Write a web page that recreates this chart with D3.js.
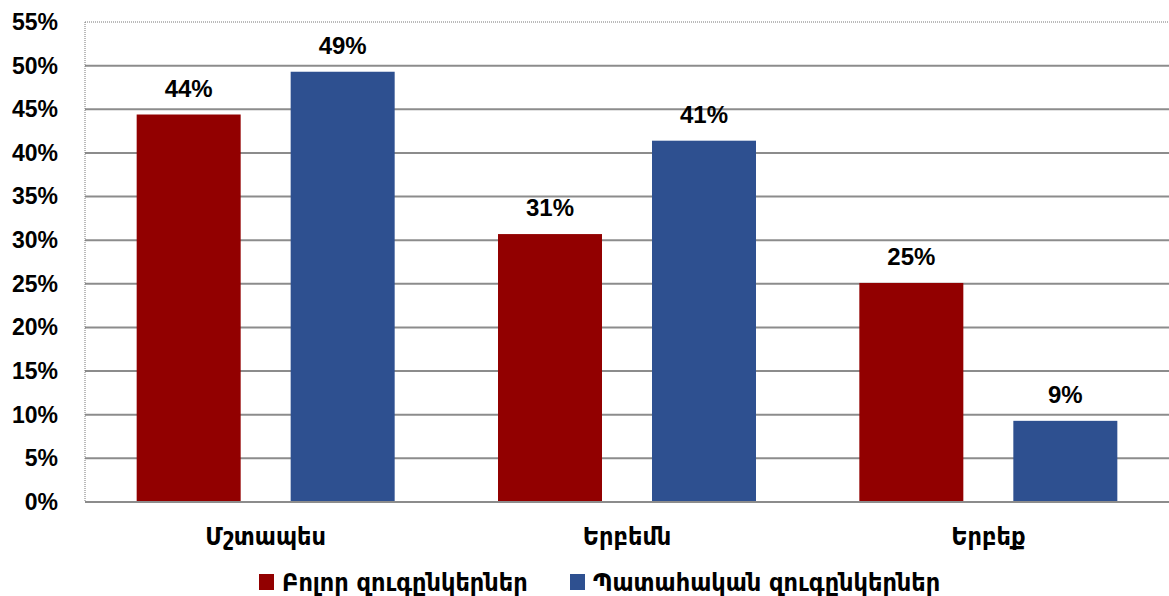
<!DOCTYPE html>
<html>
<head>
<meta charset="utf-8">
<script src="https://cdn.jsdelivr.net/npm/d3@7"></script>
<style>
  body { margin: 0; background: #fff; }
  text { font-family: "Liberation Sans", Arial, sans-serif; font-weight: bold; fill: #000; }
  .arm { font-family: "DejaVu Sans Condensed", "DejaVu Sans", sans-serif; }
</style>
</head>
<body>
<div id="chart"></div>
<script>
const categories = ['Մշտապես', 'Երբեմն', 'Երբեք'];
const seriesNames = ['Բոլոր զուգընկերներ', 'Պատահական զուգընկերներ'];
const allPartners = [44.4, 30.7, 25.1];
const casualPartners = [49.3, 41.4, 9.3];
const valueLabels = [['44%', '31%', '25%'], ['49%', '41%', '9%']];
const yTicks = [0, 5, 10, 15, 20, 25, 30, 35, 40, 45, 50, 55];

const width = 1169;
const height = 596;
const margin = { top: 22, right: 0, bottom: 94, left: 85 };
const colors = ['#920000', '#2E5090'];

const svg = d3.select('#chart')
  .append('svg')
  .attr('width', width)
  .attr('height', height);

const x = d3.scaleBand()
  .domain(categories)
  .range([margin.left, width - margin.right]);

// two bars of 104px with a 50px gap, centred in each category
const groupW = 258;
const x1 = d3.scaleBand()
  .domain([0, 1])
  .range([(x.bandwidth() - groupW) / 2, (x.bandwidth() + groupW) / 2])
  .paddingInner(50 / 154);

const y = d3.scaleLinear()
  .domain([0, 55])
  .range([height - margin.bottom, margin.top]);

// gridlines
svg.append('g')
  .selectAll('line')
  .data(yTicks.slice(1, -1))
  .enter()
  .append('line')
  .attr('x1', margin.left)
  .attr('x2', width - margin.right)
  .attr('y1', d => y(d))
  .attr('y2', d => y(d))
  .attr('stroke', '#8c8c8c')
  .attr('stroke-width', 2);

// plot border (dotted top & left)
svg.append('line')
  .attr('x1', margin.left).attr('x2', width)
  .attr('y1', y(55)).attr('y2', y(55))
  .attr('stroke', '#777').attr('stroke-width', 1).attr('stroke-dasharray', '1,1');
svg.append('line')
  .attr('x1', margin.left).attr('x2', margin.left)
  .attr('y1', y(55)).attr('y2', y(0))
  .attr('stroke', '#777').attr('stroke-width', 1).attr('stroke-dasharray', '1,1');

const series = [allPartners, casualPartners];

series.forEach((values, s) => {
  svg.append('g')
    .selectAll('rect')
    .data(values)
    .enter()
    .append('rect')
    .attr('x', (d, i) => x(categories[i]) + x1(s))
    .attr('y', d => y(d))
    .attr('width', x1.bandwidth())
    .attr('height', d => y(0) - y(d))
    .attr('fill', colors[s]);

  svg.append('g')
    .selectAll('text')
    .data(values)
    .enter()
    .append('text')
    .attr('x', (d, i) => x(categories[i]) + x1(s) + x1.bandwidth() / 2)
    .attr('y', d => y(d) - 18)
    .attr('text-anchor', 'middle')
    .attr('font-size', 24)
    .text((d, i) => valueLabels[s][i]);
});

// x axis line
svg.append('line')
  .attr('x1', margin.left).attr('x2', width)
  .attr('y1', y(0)).attr('y2', y(0))
  .attr('stroke', '#8c8c8c').attr('stroke-width', 2);

// y axis labels
const yAxis = svg.append('g')
  .attr('transform', `translate(${margin.left},0)`)
  .call(d3.axisLeft(y).tickValues(yTicks).tickFormat(d => d + '%').tickSize(0).tickPadding(27));
yAxis.select('.domain').remove();
yAxis.selectAll('text')
  .attr('font-size', 23)
  .attr('font-family', '"Liberation Sans", Arial, sans-serif')
  .attr('font-weight', 'bold')
  .attr('fill', '#000');

// category labels
const xAxis = svg.append('g')
  .attr('transform', `translate(0,${y(0)})`)
  .call(d3.axisBottom(x).tickSize(0).tickPadding(25));
xAxis.select('.domain').remove();
xAxis.selectAll('text')
  .attr('class', 'arm')
  .attr('font-size', 25)
  .attr('font-family', '"DejaVu Sans Condensed", "DejaVu Sans", sans-serif')
  .attr('font-weight', 'bold')
  .attr('fill', '#000');

// legend
const legendX = [259, 570];
const legend = svg.append('g');
seriesNames.forEach((name, s) => {
  legend.append('rect')
    .attr('x', legendX[s])
    .attr('y', 574)
    .attr('width', 15)
    .attr('height', 16)
    .attr('fill', colors[s]);
  legend.append('text')
    .attr('class', 'arm')
    .attr('x', legendX[s] + 23)
    .attr('y', 591)
    .attr('font-size', 25)
    .text(name);
});
</script>
</body>
</html>
